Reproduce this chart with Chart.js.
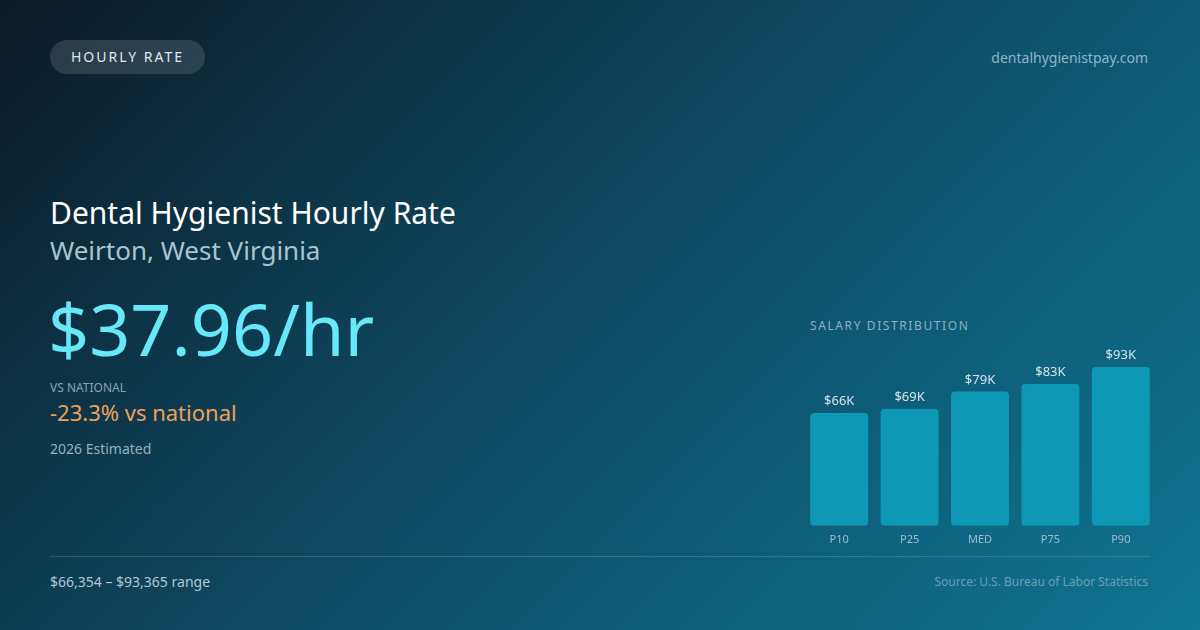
<!DOCTYPE html>
<html lang="en">
<head>
<meta charset="utf-8">
<title>Dental Hygienist Hourly Rate | Weirton, WV</title>
<script src="https://cdn.jsdelivr.net/npm/chart.js@4.4.1/dist/chart.umd.min.js"></script>
<style>
html, body {
  margin: 0;
  padding: 0;
}
body {
  width: 1200px;
  height: 630px;
  overflow: hidden;
  font-family: "Noto Sans", "Open Sans", sans-serif;
  -webkit-font-smoothing: antialiased;
}
.card {
  position: relative;
  width: 1200px;
  height: 630px;
  background: linear-gradient(135deg, #0b1a28 0%, #0e4c64 50%, #0e7593 100%);
  color: #fff;
}
.pill {
  position: absolute;
  left: 50px;
  top: 40px;
  height: 34px;
  width: 155px;
  border-radius: 17px;
  background: rgba(255, 255, 255, 0.13);
  color: #dfe8ee;
  font-size: 14px;
  letter-spacing: 2px;
  line-height: 34px;
  text-align: center;
}
.site {
  position: absolute;
  right: 52px;
  top: 48px;
  font-size: 14px;
  color: #8db6c9;
}
.title {
  position: absolute;
  left: 50px;
  top: 192px;
  font-size: 30px;
  color: #ffffff;
}
.subtitle {
  position: absolute;
  left: 50px;
  top: 232px;
  font-size: 26px;
  color: #a9c3d2;
}
.big {
  position: absolute;
  left: 48px;
  top: 280px;
  font-size: 72px;
  line-height: 96px;
  color: #67e8f9;
}
.vs-label {
  position: absolute;
  left: 50px;
  top: 379px;
  font-size: 12px;
  color: #88a4b4;
}
.vs-value {
  position: absolute;
  left: 50px;
  top: 397px;
  font-size: 22px;
  color: #eda15a;
}
.est {
  position: absolute;
  left: 50px;
  top: 439px;
  font-size: 14px;
  color: #98b0bd;
}
.dist-label {
  position: absolute;
  left: 810px;
  top: 317px;
  font-size: 12px;
  letter-spacing: 1.6px;
  color: #8fb1c2;
}
.chart-box {
  position: absolute;
  left: 804px;
  top: 337px;
  width: 352px;
  height: 216px;
}
.divider {
  position: absolute;
  left: 50px;
  top: 556px;
  width: 1100px;
  height: 1px;
  background: rgba(255, 255, 255, 0.14);
}
.range {
  position: absolute;
  left: 50px;
  top: 572px;
  font-size: 14px;
  color: #b3c7d2;
}
.source {
  position: absolute;
  right: 52px;
  top: 573px;
  font-size: 12px;
  color: #6f9fb6;
}
</style>
</head>
<body>
<div class="card">
  <div class="pill">HOURLY RATE</div>
  <div class="site">dentalhygienistpay.com</div>

  <div class="title">Dental Hygienist Hourly Rate</div>
  <div class="subtitle">Weirton, West Virginia</div>
  <div class="big">$37.96/hr</div>
  <div class="vs-label">VS NATIONAL</div>
  <div class="vs-value">-23.3% vs national</div>
  <div class="est">2026 Estimated</div>

  <div class="dist-label">SALARY DISTRIBUTION</div>
  <div class="chart-box">
    <canvas id="dist-chart"></canvas>
  </div>

  <div class="divider"></div>
  <div class="range">$66,354 – $93,365 range</div>
  <div class="source">Source: U.S. Bureau of Labor Statistics</div>
</div>

<script>
  // percentile labels and annual salary values
  const percentiles = ['P10', 'P25', 'MED', 'P75', 'P90'];
  const salaries = [66354, 68800, 78900, 83300, 93365];
  const barLabels = ['$66K', '$69K', '$79K', '$83K', '$93K'];

  /* draws the value text above each bar */
  const valueLabels = {
    id: 'valueLabels',
    afterDatasetsDraw(chart) {
      const ctx = chart.ctx;
      const meta = chart.getDatasetMeta(0);
      ctx.save();
      ctx.font = '13px "Noto Sans", sans-serif';
      ctx.fillStyle = '#d3e3ec';
      ctx.textAlign = 'center';
      ctx.textBaseline = 'bottom';
      meta.data.forEach(function(bar, i) {
        ctx.fillText(barLabels[i], bar.x, bar.y - 5);
      });
      ctx.restore();
    }
  };

  new Chart(document.getElementById('dist-chart'), {
    type: 'bar',
    data: {
      labels: percentiles,
      datasets: [{
        data: salaries,
        backgroundColor: '#0e98b6',
        borderRadius: 4,
        borderSkipped: false,
        barPercentage: 0.823,
        categoryPercentage: 1
      }]
    },
    options: {
      responsive: true,
      maintainAspectRatio: false,
      animation: false,
      layout: { padding: { top: 30 } },
      plugins: {
        legend: { display: false },
        tooltip: { enabled: false }
      },
      scales: {
        x: {
          grid: { display: false, drawTicks: false },
          border: { display: false },
          ticks: {
            color: '#9fbccb',
            font: { family: '"Noto Sans", sans-serif', size: 11 },
            padding: 7
          }
        },
        y: {
          display: false,
          min: 0,
          max: Math.max(...salaries)
        }
      }
    },
    plugins: [valueLabels]
  });
</script>
</body>
</html>
